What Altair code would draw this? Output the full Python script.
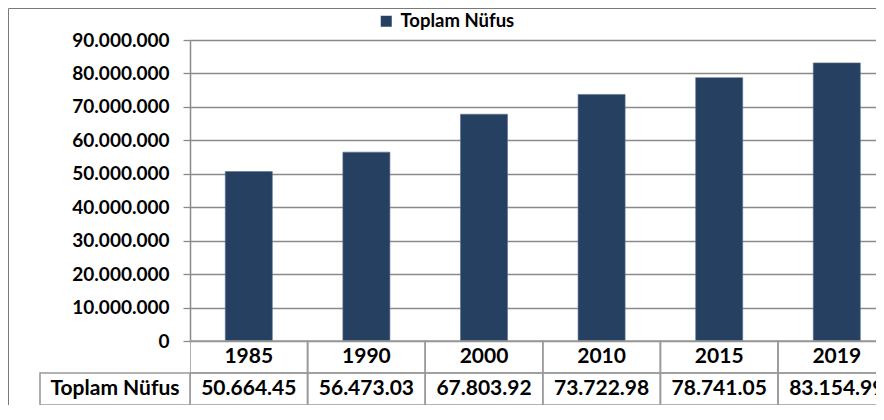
import altair as alt
import pandas as pd

# ---- data ----
yillar = ["1985", "1990", "2000", "2010", "2015", "2019"]
nufus = [50664458, 56473035, 67803927, 73722988, 78741053, 83154997]
seri_adi = "Toplam Nüfus"
y_ticks = [0, 10000000, 20000000, 30000000, 40000000, 50000000,
           60000000, 70000000, 80000000, 90000000]
satirlar = ["yil", "deger"]

df = pd.DataFrame({"yil": yillar, "nufus": nufus, "seri": [seri_adi] * len(yillar)})
cells = pd.DataFrame([{"yil": y, "satir": s} for y in yillar for s in satirlar])
label_df = pd.DataFrame({"satir": ["deger"], "etiket": [seri_adi]})
frame_df = pd.DataFrame({"k": [0]})

FONT = "Lato"
BAR = "#264061"
GRID = "#8a8a8a"
TBL = "#9a9a9a"
FRAME = "#7a7a7a"

W = 686
H = 365

x_scale = alt.Scale(domain=yillar, range=[0, 705.6], paddingInner=0, paddingOuter=0)
y_bar_scale = alt.Scale(domain=[0, 90000000], range=[301, 0], nice=False)
y_tbl_scale = alt.Scale(domain=satirlar, range=[301, H], paddingInner=0, paddingOuter=0)

frame_top = alt.Chart(frame_df).mark_rule(stroke=FRAME, strokeWidth=1, clip=False).encode(
    x=alt.value(-181.5), x2=alt.value(W), y=alt.value(-31.5)
)
frame_left = alt.Chart(frame_df).mark_rule(stroke=FRAME, strokeWidth=1, clip=False).encode(
    x=alt.value(-181.5), y=alt.value(-31.5), y2=alt.value(H)
)

bars = alt.Chart(df).mark_bar(width=alt.RelativeBandSize(0.4), stroke="#5a7090", strokeWidth=0.6, clip=True).encode(
    x=alt.X("yil:O", scale=x_scale, axis=None),
    y=alt.Y(
        "nufus:Q",
        scale=y_bar_scale,
        axis=alt.Axis(
            values=y_ticks,
            title=None,
            labelExpr="replace(format(datum.value, ','), regexp(',', 'g'), '.')",
            labelFont=FONT,
            labelFontSize=19,
            labelFontWeight="bold",
            labelColor="black",
            labelPadding=14,
            tickSize=7,
            tickColor=GRID,
            domainColor=GRID,
            gridColor=GRID,
            gridWidth=1.3,
            domainWidth=1.5,
            tickWidth=1.3,
        ),
    ),
    color=alt.Color(
        "seri:N",
        scale=alt.Scale(range=[BAR]),
        legend=alt.Legend(
            title=None,
            orient="none",
            legendX=187,
            legendY=-28,
            symbolType="square",
            symbolSize=121,
            symbolStrokeWidth=0,
            labelFont=FONT,
            labelFontSize=18.5,
            labelFontWeight="bold",
            labelColor="black",
            labelOffset=5,
        ),
    ),
)

cell_rects = alt.Chart(cells).mark_rect(fill="transparent", stroke=TBL, strokeWidth=1.6, clip=True).encode(
    x=alt.X("yil:O", scale=x_scale, axis=None),
    y=alt.Y("satir:N", scale=y_tbl_scale, axis=None),
)

label_rect = alt.Chart(label_df).mark_rect(fill="transparent", stroke=TBL, strokeWidth=1.6, clip=False).encode(
    x=alt.value(-150), x2=alt.value(0),
    y=alt.Y("satir:N", scale=y_tbl_scale, axis=None),
)

year_text = alt.Chart(df).transform_calculate(satir="'yil'").mark_text(
    font=FONT, fontSize=21, fontWeight="bold", color="black", baseline="middle", clip=True
).encode(
    x=alt.X("yil:O", scale=x_scale, axis=None),
    y=alt.Y("satir:N", scale=y_tbl_scale, axis=None),
    text="yil:N",
)

value_text = alt.Chart(df).transform_calculate(
    satir="'deger'",
    metin="substring(replace(format(datum.nufus, ','), regexp(',', 'g'), '.'), 0, 9)",
).mark_text(font=FONT, fontSize=21, fontWeight="bold", color="black", baseline="middle", clip=True).encode(
    x=alt.X("yil:O", scale=x_scale, axis=None),
    y=alt.Y("satir:N", scale=y_tbl_scale, axis=None),
    text="metin:N",
)

label_text = alt.Chart(label_df).mark_text(
    font=FONT, fontSize=21, fontWeight="bold", color="black", baseline="middle", clip=False
).encode(
    x=alt.value(-75),
    y=alt.Y("satir:N", scale=y_tbl_scale, axis=None),
    text="etiket:N",
)

chart = (
    alt.layer(frame_top, frame_left, bars, cell_rects, label_rect, year_text, value_text, label_text)
    .resolve_scale(y="independent")
    .properties(
        width=W,
        height=H,
        autosize=alt.AutoSizeParams(type="none"),
        padding={"left": 182, "top": 32, "right": 0, "bottom": 0},
        background="white",
    )
    .configure_view(stroke="transparent")
)

chart.save("out.html", embed_options={"renderer": "svg", "actions": False})
